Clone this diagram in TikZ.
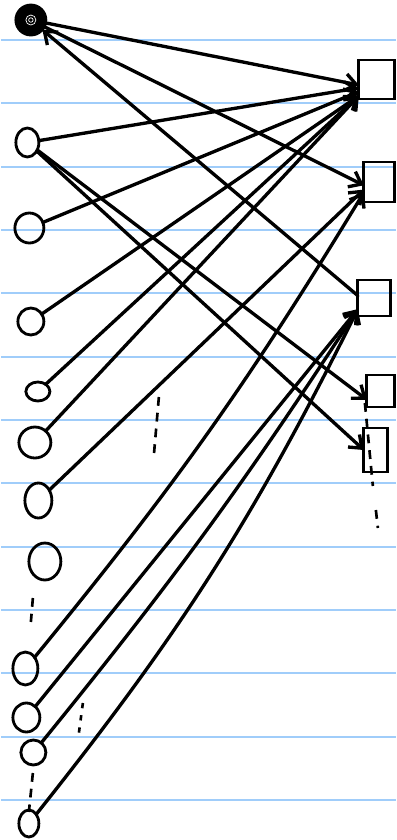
\documentclass[tikz,border=0pt]{standalone}
\usepackage{tikz}
\usetikzlibrary{arrows.meta,shapes.geometric}
\definecolor{ruled}{RGB}{160,205,250}

\begin{document}
\begin{tikzpicture}[x=0.02cm, y=-0.02cm, >={Straight Barb[length=2.2mm,width=3.4mm]},
  dot/.style={draw, ellipse, line width=1.6pt, inner sep=0pt, outer sep=0pt},
  box/.style={draw, rectangle, line width=1.6pt, inner sep=0pt, outer sep=0pt},
  wire/.style={->, line width=1.9pt, line cap=round},
  gap/.style={line width=1.5pt, dash pattern=on 5pt off 4pt}]
  % ruled paper
  \fill[white] (0,0) rectangle (395,840);
  \foreach \k in {0,...,12} \draw[ruled, line width=1pt] (0,{40+63.33*\k}) -- (395,{40+63.33*\k});
  \useasboundingbox (0,0) rectangle (395,840);
  % left column
  \node[dot, fill=black, minimum width=0.60cm, minimum height=0.60cm] (l0) at (30,20) {};
  \draw[white, line width=0.4pt] (l0.center) circle (0.1cm) (l0.center) circle (0.045cm);
  \node[dot, minimum width=0.46cm, minimum height=0.58cm] (l1) at (26.5,142.5) {};
  \node[dot, minimum width=0.58cm, minimum height=0.60cm] (l2) at (28.5,228) {};
  \node[dot, minimum width=0.52cm, minimum height=0.54cm] (l3) at (30,321.5) {};
  \node[dot, minimum width=0.48cm, minimum height=0.38cm] (l4) at (37,391.5) {};
  \node[dot, minimum width=0.64cm, minimum height=0.62cm] (l5) at (34,442.5) {};
  \node[dot, minimum width=0.54cm, minimum height=0.70cm] (l6) at (37.5,500.5) {};
  \node[dot, minimum width=0.64cm, minimum height=0.74cm] (l7) at (44,561.5) {};
  \node[dot, minimum width=0.50cm, minimum height=0.66cm] (l8) at (24.5,668.5) {};
  \node[dot, minimum width=0.54cm, minimum height=0.58cm] (l9) at (25.5,717.5) {};
  \node[dot, minimum width=0.50cm, minimum height=0.50cm] (l10) at (32.5,752.5) {};
  \node[dot, minimum width=0.40cm, minimum height=0.54cm] (l11) at (28,823.5) {};
  % right column
  \node[box, minimum width=0.72cm, minimum height=0.78cm] (r0) at (376,79.5) {};
  \node[box, minimum width=0.62cm, minimum height=0.80cm] (r1) at (378.5,182) {};
  \node[box, minimum width=0.66cm, minimum height=0.72cm] (r2) at (373.5,298) {};
  \node[box, minimum width=0.56cm, minimum height=0.64cm] (r3) at (380,391) {};
  \node[box, minimum width=0.48cm, minimum height=0.88cm] (r4) at (375,450) {};
  % edges
  \draw[wire] (l0) -- (r0.197);
  \draw[wire] (l0) -- (r1.192);
  \draw[wire] (r2.172) -- (l0);
  \draw[wire] (l1) -- (r0.205);
  \draw[wire] (l2) -- (r0.214);
  \foreach \i in {3,4,5} \draw[wire] (l\i) -- (r0.222);
  \draw[wire] (l1) -- (r3.212);
  \draw[wire] (l1) -- (r4.west);
  \draw[wire] (l6) -- (r1.206);
  \draw[wire] (l8) to[bend right=4] (r1.214);
  \draw[wire] (l9) -- (r2.214);
  \draw[wire] (l10) to[bend right=3] (r2.214);
  \draw[wire] (l11) to[bend right=6] (r2.214);
  % dots
  \draw[gap] (158,397) -- (153,455);
  \draw[gap] (32,598) -- (30,622);
  \draw[gap, dash pattern=on 3pt off 4pt] (82,703) -- (78,733);
  \draw[gap] (32,773) -- (28,812);
  \draw[gap] (364,403) -- (372,486);
  \draw[gap] (375,510) -- (377,528);
\end{tikzpicture}
\end{document}
